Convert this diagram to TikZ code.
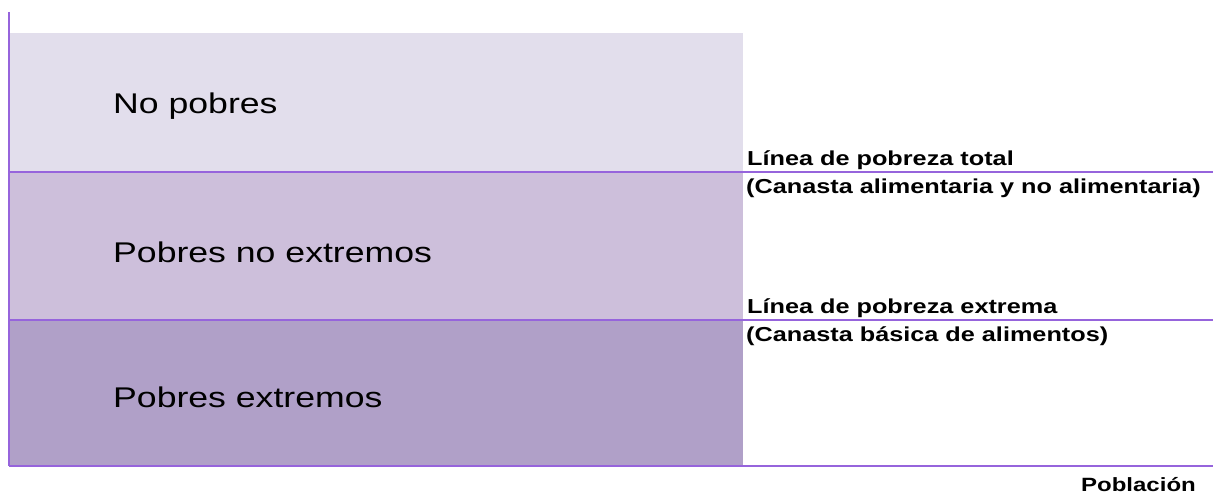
\documentclass[tikz,border=0pt]{standalone}
\usepackage{fontspec}
\newfontfamily\wideR[FakeStretch=1.25]{Liberation Sans}
\definecolor{axisc}{RGB}{150,100,220}
\definecolor{topc}{RGB}{226,222,236}
\definecolor{midc}{RGB}{205,191,219}
\definecolor{botc}{RGB}{176,160,200}
\tikzset{
  axisline/.style={draw=axisc, line width=2.8pt},
  bandlabel/.style={anchor=base west, inner sep=0pt, font=\wideR\fontsize{28.5}{30}\selectfont},
  linelabel/.style={anchor=base west, inner sep=0pt, font=\wideR\bfseries\fontsize{20.2}{21}\selectfont},
  poblabel/.style={anchor=base east, inner sep=0pt, font=\wideR\bfseries\fontsize{19.2}{20}\selectfont},
}
\begin{document}
\begin{tikzpicture}[x=1pt,y=-1pt]
\useasboundingbox (0,0) rectangle (1213,495);
% bands
\fill[topc] (9,33) rectangle (743,172);
\fill[midc] (9,172) rectangle (743,320);
\fill[botc] (9,320) rectangle (743,466);
% axes and lines
\coordinate (ytop) at (9,12);
\coordinate (orig) at (9,466);
\coordinate (xend) at (1213,466);
\coordinate (l1a) at (9,172);
\coordinate (l1b) at (1213,172);
\coordinate (l2a) at (9,320);
\coordinate (l2b) at (1213,320);
\draw[axisline] (l1a) -- (l1b);
\draw[axisline] (l2a) -- (l2b);
\draw[axisline] (orig) -- (xend);
\draw[axisline] (ytop) -- (orig);
% band labels
\node[bandlabel] (np) at (113,113) {No pobres};
\node[bandlabel] (pne) at (113,262) {Pobres no extremos};
\node[bandlabel] (pe) at (113,407) {Pobres extremos};
% line labels
\node[linelabel] (lpt) at (747,165) {Línea de pobreza total};
\node[linelabel] (cana) at (746,193) {(Canasta alimentaria y no alimentaria)};
\node[linelabel] (lpe) at (747,313) {Línea de pobreza extrema};
\node[linelabel] (cba) at (746,341) {(Canasta básica de alimentos)};
\node[poblabel] (pob) at (1196,491) {Población};
\end{tikzpicture}
\end{document}
